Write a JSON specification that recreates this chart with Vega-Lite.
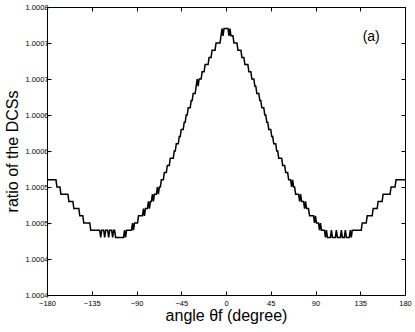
{
  "$schema": "https://vega.github.io/schema/vega-lite/v6.json",
  "width": 358,
  "height": 288,
  "autosize": "none",
  "padding": {"left": 47, "top": 7, "right": 10, "bottom": 37},
  "background": "#ffffff",
  "config": {
    "font": "Liberation Sans",
    "view": {"stroke": "#000000", "strokeWidth": 1},
    "axis": {
      "grid": false,
      "domainColor": "#000000",
      "tickColor": "#000000",
      "labelColor": "#000000",
      "titleColor": "#000000",
      "labelFont": "Liberation Sans",
      "titleFont": "Liberation Sans",
      "labelFontSize": 7.5,
      "titleFontSize": 16,
      "titleFontWeight": "normal",
      "tickSize": -4,
      "labelFlush": false
    }
  },
  "data": {
    "values": [
      {"angle": -180, "ratio": 1.00056}, {"angle": -171, "ratio": 1.00056},
      {"angle": -170, "ratio": 1.00055}, {"angle": -167, "ratio": 1.00055},
      {"angle": -166, "ratio": 1.00054}, {"angle": -159, "ratio": 1.00054},
      {"angle": -158, "ratio": 1.00053}, {"angle": -154, "ratio": 1.00053},
      {"angle": -153, "ratio": 1.00052}, {"angle": -148, "ratio": 1.00052},
      {"angle": -147, "ratio": 1.00051}, {"angle": -144, "ratio": 1.00051},
      {"angle": -143, "ratio": 1.0005}, {"angle": -137, "ratio": 1.0005},
      {"angle": -136, "ratio": 1.00049}, {"angle": -127, "ratio": 1.00049},
      {"angle": -126, "ratio": 1.00048}, {"angle": -125, "ratio": 1.00049},
      {"angle": -123, "ratio": 1.00049}, {"angle": -122, "ratio": 1.00048},
      {"angle": -121, "ratio": 1.00049}, {"angle": -119, "ratio": 1.00049},
      {"angle": -118, "ratio": 1.00048}, {"angle": -117, "ratio": 1.00049},
      {"angle": -115, "ratio": 1.00049}, {"angle": -114, "ratio": 1.00048},
      {"angle": -113, "ratio": 1.00049}, {"angle": -112, "ratio": 1.00049},
      {"angle": -111, "ratio": 1.00048}, {"angle": -103, "ratio": 1.00048},
      {"angle": -102, "ratio": 1.00049}, {"angle": -101, "ratio": 1.00048},
      {"angle": -100, "ratio": 1.00049}, {"angle": -95, "ratio": 1.00049},
      {"angle": -94, "ratio": 1.0005}, {"angle": -93, "ratio": 1.00049},
      {"angle": -92, "ratio": 1.0005}, {"angle": -89, "ratio": 1.0005},
      {"angle": -88, "ratio": 1.00051}, {"angle": -84, "ratio": 1.00051},
      {"angle": -83, "ratio": 1.00052}, {"angle": -82, "ratio": 1.00051},
      {"angle": -81, "ratio": 1.00052}, {"angle": -79, "ratio": 1.00052},
      {"angle": -78, "ratio": 1.00053}, {"angle": -77, "ratio": 1.00052},
      {"angle": -76, "ratio": 1.00053}, {"angle": -75, "ratio": 1.00053},
      {"angle": -74, "ratio": 1.00054}, {"angle": -73, "ratio": 1.00053},
      {"angle": -72, "ratio": 1.00054}, {"angle": -70, "ratio": 1.00054},
      {"angle": -69, "ratio": 1.00055}, {"angle": -68, "ratio": 1.00054},
      {"angle": -67, "ratio": 1.00055}, {"angle": -66, "ratio": 1.00055},
      {"angle": -65, "ratio": 1.00056}, {"angle": -63, "ratio": 1.00056},
      {"angle": -62, "ratio": 1.00057}, {"angle": -60, "ratio": 1.00057},
      {"angle": -59, "ratio": 1.00058}, {"angle": -57, "ratio": 1.00058},
      {"angle": -56, "ratio": 1.00059}, {"angle": -53, "ratio": 1.00059},
      {"angle": -52, "ratio": 1.0006}, {"angle": -51, "ratio": 1.0006},
      {"angle": -50, "ratio": 1.00061}, {"angle": -48, "ratio": 1.00061},
      {"angle": -47, "ratio": 1.00062}, {"angle": -46, "ratio": 1.00062},
      {"angle": -45, "ratio": 1.00063}, {"angle": -43, "ratio": 1.00063},
      {"angle": -42, "ratio": 1.00064}, {"angle": -41, "ratio": 1.00064},
      {"angle": -40, "ratio": 1.00065}, {"angle": -39, "ratio": 1.00065},
      {"angle": -38, "ratio": 1.00066}, {"angle": -36, "ratio": 1.00066},
      {"angle": -35, "ratio": 1.00067}, {"angle": -34, "ratio": 1.00067},
      {"angle": -33, "ratio": 1.00068}, {"angle": -31, "ratio": 1.00068},
      {"angle": -30, "ratio": 1.00069}, {"angle": -29, "ratio": 1.0007},
      {"angle": -28, "ratio": 1.00069}, {"angle": -27, "ratio": 1.0007},
      {"angle": -25, "ratio": 1.0007}, {"angle": -24, "ratio": 1.00071},
      {"angle": -22, "ratio": 1.00071}, {"angle": -21, "ratio": 1.00072},
      {"angle": -18, "ratio": 1.00072}, {"angle": -17, "ratio": 1.00073},
      {"angle": -15, "ratio": 1.00073}, {"angle": -14, "ratio": 1.00074},
      {"angle": -11, "ratio": 1.00074}, {"angle": -10, "ratio": 1.00075},
      {"angle": -6, "ratio": 1.00075}, {"angle": -5, "ratio": 1.00076},
      {"angle": -4, "ratio": 1.00077}, {"angle": -3, "ratio": 1.00076},
      {"angle": -2, "ratio": 1.00077}, {"angle": 2, "ratio": 1.00077},
      {"angle": 3, "ratio": 1.00076}, {"angle": 4, "ratio": 1.00077},
      {"angle": 5, "ratio": 1.00076}, {"angle": 7, "ratio": 1.00076},
      {"angle": 8, "ratio": 1.00075}, {"angle": 11, "ratio": 1.00075},
      {"angle": 12, "ratio": 1.00074}, {"angle": 15, "ratio": 1.00074},
      {"angle": 16, "ratio": 1.00073}, {"angle": 18, "ratio": 1.00073},
      {"angle": 19, "ratio": 1.00072}, {"angle": 22, "ratio": 1.00072},
      {"angle": 23, "ratio": 1.00071}, {"angle": 25, "ratio": 1.00071},
      {"angle": 26, "ratio": 1.0007}, {"angle": 28, "ratio": 1.0007},
      {"angle": 29, "ratio": 1.00069}, {"angle": 30, "ratio": 1.00069},
      {"angle": 31, "ratio": 1.00068}, {"angle": 33, "ratio": 1.00068},
      {"angle": 34, "ratio": 1.00067}, {"angle": 35, "ratio": 1.00067},
      {"angle": 36, "ratio": 1.00066}, {"angle": 38, "ratio": 1.00066},
      {"angle": 39, "ratio": 1.00065}, {"angle": 40, "ratio": 1.00065},
      {"angle": 41, "ratio": 1.00064}, {"angle": 42, "ratio": 1.00064},
      {"angle": 43, "ratio": 1.00063}, {"angle": 45, "ratio": 1.00063},
      {"angle": 46, "ratio": 1.00062}, {"angle": 47, "ratio": 1.00062},
      {"angle": 48, "ratio": 1.00061}, {"angle": 50, "ratio": 1.00061},
      {"angle": 51, "ratio": 1.0006}, {"angle": 52, "ratio": 1.0006},
      {"angle": 53, "ratio": 1.00059}, {"angle": 56, "ratio": 1.00059},
      {"angle": 57, "ratio": 1.00058}, {"angle": 59, "ratio": 1.00058},
      {"angle": 60, "ratio": 1.00057}, {"angle": 62, "ratio": 1.00057},
      {"angle": 63, "ratio": 1.00056}, {"angle": 65, "ratio": 1.00056},
      {"angle": 66, "ratio": 1.00055}, {"angle": 67, "ratio": 1.00056},
      {"angle": 68, "ratio": 1.00055}, {"angle": 69, "ratio": 1.00055},
      {"angle": 70, "ratio": 1.00054}, {"angle": 73, "ratio": 1.00054},
      {"angle": 74, "ratio": 1.00053}, {"angle": 75, "ratio": 1.00054},
      {"angle": 76, "ratio": 1.00053}, {"angle": 78, "ratio": 1.00053},
      {"angle": 79, "ratio": 1.00052}, {"angle": 80, "ratio": 1.00053},
      {"angle": 81, "ratio": 1.00052}, {"angle": 83, "ratio": 1.00052},
      {"angle": 84, "ratio": 1.00051}, {"angle": 88, "ratio": 1.00051},
      {"angle": 89, "ratio": 1.0005}, {"angle": 90, "ratio": 1.00051},
      {"angle": 91, "ratio": 1.0005}, {"angle": 93, "ratio": 1.0005},
      {"angle": 94, "ratio": 1.00049}, {"angle": 95, "ratio": 1.0005},
      {"angle": 96, "ratio": 1.00049}, {"angle": 99, "ratio": 1.00049},
      {"angle": 100, "ratio": 1.00048}, {"angle": 101, "ratio": 1.00049},
      {"angle": 102, "ratio": 1.00048}, {"angle": 105, "ratio": 1.00048},
      {"angle": 106, "ratio": 1.00049}, {"angle": 107, "ratio": 1.00048},
      {"angle": 110, "ratio": 1.00048}, {"angle": 111, "ratio": 1.00049},
      {"angle": 112, "ratio": 1.00048}, {"angle": 115, "ratio": 1.00048},
      {"angle": 116, "ratio": 1.00049}, {"angle": 117, "ratio": 1.00048},
      {"angle": 119, "ratio": 1.00048}, {"angle": 120, "ratio": 1.00049},
      {"angle": 121, "ratio": 1.00048}, {"angle": 124, "ratio": 1.00048},
      {"angle": 125, "ratio": 1.00049}, {"angle": 126, "ratio": 1.00048},
      {"angle": 127, "ratio": 1.00049}, {"angle": 136, "ratio": 1.00049},
      {"angle": 137, "ratio": 1.0005}, {"angle": 141, "ratio": 1.0005},
      {"angle": 142, "ratio": 1.00051}, {"angle": 147, "ratio": 1.00051},
      {"angle": 148, "ratio": 1.00052}, {"angle": 152, "ratio": 1.00052},
      {"angle": 153, "ratio": 1.00053}, {"angle": 157, "ratio": 1.00053},
      {"angle": 158, "ratio": 1.00054}, {"angle": 165, "ratio": 1.00054},
      {"angle": 166, "ratio": 1.00055}, {"angle": 170, "ratio": 1.00055},
      {"angle": 171, "ratio": 1.00056}, {"angle": 180, "ratio": 1.00056}
    ]
  },
  "layer": [
    {
      "mark": {"type": "line", "color": "#000000", "strokeWidth": 1.5, "clip": true},
      "encoding": {
        "x": {
          "field": "angle", "type": "quantitative",
          "scale": {"domain": [-180, 180], "nice": false, "zero": false},
          "axis": {
            "orient": "bottom",
            "values": [-180, -135, -90, -45, 0, 45, 90, 135, 180],
            "title": "angle θf (degree)",
            "labelPadding": 8,
            "titlePadding": 1
          }
        },
        "y": {
          "field": "ratio", "type": "quantitative",
          "scale": {"domain": [1.0004, 1.0008], "nice": false, "zero": false},
          "axis": {
            "orient": "left",
            "values": [1.0004, 1.00045, 1.0005, 1.00055, 1.0006, 1.00065, 1.0007, 1.00075, 1.0008],
            "labelExpr": "format(floor(datum.value*10000+0.000001)/10000, '.4f')",
            "title": "ratio of the DCSs",
            "labelPadding": 3,
            "titlePadding": 5
          }
        }
      }
    },
    {
      "mark": {"type": "line", "opacity": 0},
      "encoding": {
        "x": {
          "field": "angle", "type": "quantitative",
          "axis": {"orient": "top", "values": [-180, -135, -90, -45, 0, 45, 90, 135, 180], "labels": false, "title": null}
        },
        "y": {
          "field": "ratio", "type": "quantitative",
          "axis": {"orient": "right", "values": [1.0004, 1.00045, 1.0005, 1.00055, 1.0006, 1.00065, 1.0007, 1.00075, 1.0008], "labels": false, "title": null}
        }
      }
    },
    {
      "data": {"values": [{"label": "(a)"}]},
      "mark": {"type": "text", "fontSize": 14, "font": "Liberation Sans", "color": "#000000", "align": "center", "baseline": "middle"},
      "encoding": {
        "x": {"datum": 146, "type": "quantitative", "axis": null},
        "y": {"datum": 1.000759, "type": "quantitative", "axis": null},
        "text": {"field": "label"}
      }
    }
  ],
  "resolve": {"axis": {"x": "independent", "y": "independent"}}
}
